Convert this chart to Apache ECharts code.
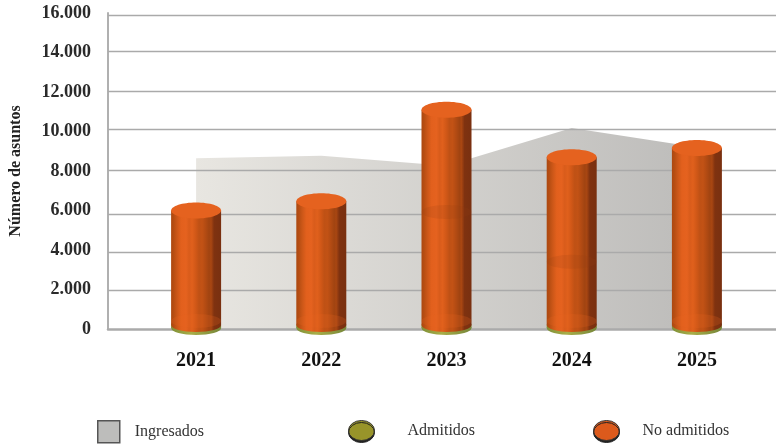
<!DOCTYPE html>
<html><head><meta charset="utf-8">
<style>html,body{margin:0;padding:0;background:#fff}#c{width:776px;height:445px}</style>
<script src="https://cdn.jsdelivr.net/npm/echarts@6/dist/echarts.min.js"></script>
</head><body><div id="c"></div>
<script>
const categories = ['2021','2022','2023','2024','2025'];
const ingresados = [8650, 8770, 8270, 10180, 9200];
const admitidos = [200, 200, 200, 200, 200];
const noAdmitidos = [5800, 6270, 10900, 8500, 8970];
const seams = [null, null, 5930, 3400, null];
const gridLevels = [15899, 14076, 12051, 10127, 8051, 5823, 3899, 1975];
const yTicks = [0, 2000, 4000, 6000, 8000, 10000, 12000, 14000, 16000];

const FONT = '"Liberation Serif", serif';
const RX = 25, RY = 8;
const stops = [[0,'#ac4810'],[.05,'#b64d12'],[.12,'#cc5718'],[.2,'#e2601d'],[.3,'#e5621f'],[.36,'#d95c1b'],[.42,'#e0601c'],[.5,'#cf5717'],[.56,'#bf5115'],[.62,'#c25215'],[.7,'#b04a13'],[.76,'#a14411'],[.8,'#a84612'],[.86,'#7f3210'],[1,'#793010']];
const bodyFill = () => ({type:'linear',x:0,y:0,x2:1,y2:0,colorStops:stops.map(s=>({offset:s[0],color:s[1]}))});
const oliveStops = [{offset:0,color:'#7f9038'},{offset:.4,color:'#a9ae48'},{offset:1,color:'#76873a'}];

function renderAdm(params, api){
  const x = api.coord([api.value(0),0])[0];
  const y0 = api.coord([0,0])[1];
  const y1 = api.coord([0,api.value(1)])[1];
  return {type:'group',children:[
    {type:'ellipse',shape:{cx:x,cy:y0-1,rx:RX,ry:RY-1},style:{fill:{type:'linear',x:0,y:0,x2:1,y2:0,colorStops:oliveStops}}},
    {type:'rect',shape:{x:x-RX,y:y1,width:RX*2,height:y0-1-y1},style:{fill:{type:'linear',x:0,y:0,x2:1,y2:0,colorStops:oliveStops}}}
  ]};
}
function renderNo(params, api){
  const i = params.dataIndex;
  const x = api.coord([api.value(0),0])[0];
  const yb = api.coord([0,api.value(1)])[1];
  const yt = api.coord([0,api.value(2)])[1];
  const kids = [
    {type:'ellipse',shape:{cx:x,cy:yb,rx:RX,ry:RY-1},style:{fill:bodyFill()}},
    {type:'rect',shape:{x:x-RX,y:yt,width:RX*2,height:yb-yt},style:{fill:bodyFill()}},
    {type:'ellipse',shape:{cx:x,cy:yb-4,rx:RX,ry:RY-1},style:{fill:'rgba(232,100,34,0.22)'}}
  ];
  if(seams[i]!=null){
    const ys = api.coord([0,seams[i]])[1];
    kids.push({type:'ellipse',shape:{cx:x,cy:ys,rx:RX,ry:RY-1},style:{fill:'rgba(150,62,16,0.16)'}});
  }
  kids.push({type:'ellipse',shape:{cx:x,cy:yt,rx:RX,ry:RY},style:{fill:'#e5621f'}});
  return {type:'group',children:kids};
}
const DISC = 'path://M0,10A13,10 0 1,1 26,10A13,10 0 1,1 0,10Z';
const legendBase = {selectedMode:false,orient:'horizontal',itemHeight:20,
  textStyle:{fontFamily:FONT,fontSize:16,color:'#333'}};

const chart = echarts.init(document.getElementById('c'));
chart.setOption({
  backgroundColor:'#fff',
  animation:false,
  grid:[
    {left:108,right:0,top:13,bottom:116},
    {left:133.5,right:16.5,top:13,bottom:116}
  ],
  legend:[
    Object.assign({},legendBase,{left:92,top:415,itemWidth:22,itemHeight:22,textStyle:Object.assign({},legendBase.textStyle,{padding:[0,0,0,10]}),
      data:[{name:'Ingresados',icon:'rect',itemStyle:{color:'#bdbdbb',borderColor:'#555',borderWidth:1.5}}]}),
    Object.assign({},legendBase,{left:343,top:415,itemWidth:26,textStyle:Object.assign({},legendBase.textStyle,{padding:[0,0,0,28]}),
      data:[{name:'Admitidos',icon:DISC,itemStyle:{color:'#98942a',borderColor:'#333',borderWidth:1,shadowColor:'#222',shadowBlur:0,shadowOffsetY:2}}]}),
    Object.assign({},legendBase,{left:588,top:415,itemWidth:26,textStyle:Object.assign({},legendBase.textStyle,{padding:[0,0,0,18]}),
      data:[{name:'No admitidos',icon:DISC,itemStyle:{color:'#dc5a1c',borderColor:'#333',borderWidth:1,shadowColor:'#222',shadowBlur:0,shadowOffsetY:2}}]})
  ],
  xAxis:[
    {type:'category',gridIndex:0,data:[''],z:4,axisLine:{show:true,lineStyle:{color:'#aaaaaa',width:2.5}},axisTick:{show:false},axisLabel:{show:false}},
    {type:'category',gridIndex:1,data:categories,axisLine:{show:false},axisTick:{show:false},
      axisLabel:{margin:22,fontFamily:FONT,fontWeight:'bold',fontSize:20,color:'#111'}}
  ],
  yAxis:[
    {type:'value',gridIndex:0,min:0,max:16000,interval:2000,
      name:'Número de asuntos',nameLocation:'middle',nameGap:84,nameRotate:90,
      nameTextStyle:{fontFamily:FONT,fontWeight:'bold',fontSize:16,color:'#222'},
      axisLine:{show:true,lineStyle:{color:'#b0b0b0',width:2}},axisTick:{show:false},splitLine:{show:false},
      axisLabel:{margin:17,fontFamily:FONT,fontWeight:'bold',fontSize:18,color:'#2a2a2a',
        customValues:yTicks,formatter:v=>v===0?'0':String(v/1000)+'.000'}},
    {type:'value',gridIndex:1,min:0,max:16000,interval:2000,show:false}
  ],
  series:[
    {name:'Ingresados',type:'line',xAxisIndex:1,yAxisIndex:1,data:ingresados,z:2,showSymbol:false,symbol:'none',
      lineStyle:{width:0},
      areaStyle:{opacity:1,color:{type:'linear',x:0,y:0,x2:1,y2:0,colorStops:[{offset:0,color:'#e8e6e1'},{offset:1,color:'#bdbcba'}]}}},
    {name:'grid',type:'line',xAxisIndex:0,yAxisIndex:0,data:[],z:3,silent:true,
      markLine:{silent:true,symbol:'none',animation:false,label:{show:false},
        lineStyle:{color:'#aaaaaa',width:1.3,type:'solid'},
        data:gridLevels.map(v=>({yAxis:v}))}},
    {name:'Admitidos',type:'custom',xAxisIndex:1,yAxisIndex:1,z:5,renderItem:renderAdm,
      encode:{x:0,y:1},data:categories.map((c,i)=>[i,admitidos[i]])},
    {name:'No admitidos',type:'custom',xAxisIndex:1,yAxisIndex:1,z:6,renderItem:renderNo,
      encode:{x:0,y:2},data:categories.map((c,i)=>[i,admitidos[i],admitidos[i]+noAdmitidos[i]])}
  ]
});
</script></body></html>
